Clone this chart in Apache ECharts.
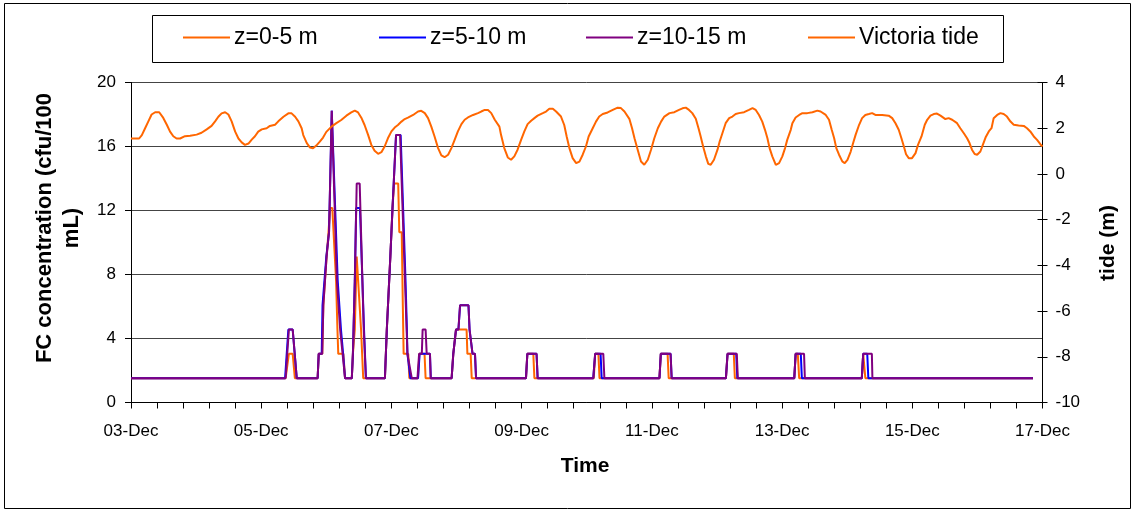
<!DOCTYPE html>
<html>
<head>
<meta charset="utf-8">
<script src="https://cdn.jsdelivr.net/npm/echarts@6/dist/echarts.min.js"></script>
<style>
  html, body { margin: 0; padding: 0; background: #fff; }
  #chart { width: 1135px; height: 512px; }
</style>
</head>
<body>
<div id="chart"></div>
<script>
// Time is in hours from 03-Dec 00:00; one axis label every 48 h.
const dateLabels = ['03-Dec', '05-Dec', '07-Dec', '09-Dec', '11-Dec', '13-Dec', '15-Dec', '17-Dec'];
const hoursPerLabel = 48;

const seriesNames = ['z=0-5 m', 'z=5-10 m', 'z=10-15 m', 'Victoria tide'];

// FC concentration (cfu/100 mL), [hour, value]
const fcTop = [
  [0,1.52],[57.0,1.52],[58.2,3.04],[59.6,3.04],[60.4,1.52],
  [68.8,1.52],[69.2,3.04],[70.5,3.04],[70.9,6.08],[71.5,7.6],[72.1,9.12],[72.8,10.64],[73.4,12.16],[74.2,12.16],[75.6,7.6],[76.1,4.56],[76.4,3.04],[78.3,3.04],[78.9,1.52],
  [81.4,1.52],[81.8,3.04],[82.5,4.56],[83.2,9.12],[84.8,4.56],[85.6,1.52],
  [93.6,1.52],[94.3,4.56],[94.9,4.56],[95.6,9.12],[96.4,12.16],[97.0,13.68],[98.5,13.68],[98.9,10.64],[99.8,10.64],[100.2,6.08],[100.5,3.04],[102.2,3.04],[102.6,1.52],
  [105.8,1.52],[106.3,3.04],[108.2,3.04],[108.6,1.52],
  [118.2,1.52],[118.8,3.04],[119.4,3.04],[119.8,4.56],[123.7,4.56],[124.0,3.04],[125.2,3.04],[125.6,1.52],
  [145.6,1.52],[146.1,3.04],[148.3,3.04],[148.7,1.52],
  [170.6,1.52],[171.1,3.04],[172.3,3.04],[172.7,1.52],
  [194.8,1.52],[195.3,3.04],[197.8,3.04],[198.2,1.52],
  [219.3,1.52],[219.9,3.04],[222.2,3.04],[222.6,1.52],
  [244.5,1.52],[245.0,3.04],[245.8,3.04],[246.3,1.52],
  [269.4,1.52],[269.9,3.04],[270.2,3.04],[270.7,1.52],
  [332.5,1.52]
];

const fcMid = [
  [0,1.52],[56.8,1.52],[58.0,4.56],[59.6,4.56],[61.1,1.52],
  [68.8,1.52],[69.2,3.04],[70.3,3.04],[70.6,6.08],[71.3,7.6],[72.0,9.12],[73.0,10.64],[74.0,18.24],[74.7,18.24],[76.2,7.6],[76.8,6.08],[77.4,4.56],[78.2,3.04],[78.9,1.52],
  [81.4,1.52],[81.8,3.04],[82.5,7.6],[83.0,12.16],[84.4,12.16],[85.9,4.56],[86.6,1.52],
  [93.6,1.52],[94.3,4.56],[94.9,4.56],[95.6,9.12],[96.4,12.16],[97.7,16.72],[99.4,16.72],[100.0,13.68],[100.6,10.64],[101.2,7.6],[101.7,4.56],[101.9,3.04],[102.5,3.04],[103.0,1.52],
  [105.8,1.52],[106.4,3.04],[110.2,3.04],[110.5,1.52],
  [118.2,1.52],[118.8,3.04],[119.4,3.04],[119.8,4.56],[120.7,4.56],[121.3,6.08],[124.4,6.08],[124.8,4.56],[125.3,4.56],[125.9,3.04],[126.8,3.04],[127.2,1.52],
  [145.6,1.52],[146.1,3.04],[149.5,3.04],[149.9,1.52],
  [170.4,1.52],[171.1,3.04],[173.1,3.04],[173.5,1.52],
  [194.8,1.52],[195.3,3.04],[198.9,3.04],[199.3,1.52],
  [219.3,1.52],[219.9,3.04],[223.1,3.04],[223.5,1.52],
  [244.5,1.52],[245.0,3.04],[246.9,3.04],[247.3,1.52],
  [269.4,1.52],[269.9,3.04],[271.4,3.04],[271.8,1.52],
  [332.5,1.52]
];

const fcDeep = [
  [0,1.52],[57.0,1.52],[58.2,4.56],[59.6,4.56],[61.1,1.52],
  [68.8,1.52],[69.2,3.04],[70.5,3.04],[70.9,6.08],[71.5,7.6],[72.1,9.12],[73.0,10.64],[74.0,18.24],[74.7,18.24],[75.9,7.6],[76.5,6.08],[77.1,4.56],[78.0,3.04],[78.9,1.52],
  [81.4,1.52],[81.8,3.04],[82.5,7.6],[83.2,13.68],[84.3,13.68],[85.8,4.56],[86.6,1.52],
  [93.6,1.52],[94.3,4.56],[94.9,4.56],[95.6,9.12],[96.4,12.16],[97.7,16.72],[99.2,16.72],[99.8,13.68],[100.4,10.64],[101.0,7.6],[101.6,4.56],[101.9,3.04],[102.5,3.04],[103.5,1.52],
  [105.6,1.52],[106.2,3.04],[107.2,3.04],[107.5,4.56],[108.6,4.56],[109.0,3.04],[110.2,3.04],[110.5,1.52],
  [118.2,1.52],[118.8,3.04],[119.4,3.04],[119.8,4.56],[120.7,4.56],[121.3,6.08],[124.4,6.08],[124.8,4.56],[125.3,4.56],[125.9,3.04],[126.8,3.04],[127.2,1.52],
  [145.6,1.52],[146.1,3.04],[149.5,3.04],[149.9,1.52],
  [170.4,1.52],[171.1,3.04],[174.1,3.04],[174.5,1.52],
  [194.8,1.52],[195.3,3.04],[198.9,3.04],[199.3,1.52],
  [219.3,1.52],[219.9,3.04],[223.3,3.04],[223.7,1.52],
  [244.5,1.52],[245.0,3.04],[248.1,3.04],[248.4,1.52],
  [269.4,1.52],[269.9,3.04],[273.1,3.04],[273.3,1.52],
  [332.5,1.52]
];

// Victoria Harbour tide level (m), [hour, value]
const victoriaTide = [
  [0,1.55],[3,1.55],[4,1.7],[5.2,2.0],[6.4,2.3],[7.6,2.6],[8.9,2.7],[10.4,2.7],[11.9,2.45],[13.2,2.15],[14.4,1.85],[15.6,1.65],[16.8,1.55],[18.1,1.55],[19.9,1.65],[21.8,1.67],[24.2,1.72],[26,1.8],[27.9,1.95],[29.7,2.1],[31,2.3],[32.2,2.5],[33.4,2.65],[34.7,2.7],[35.9,2.6],[37.1,2.3],[38.4,1.85],[39.6,1.55],[40.8,1.38],[42,1.27],[43.3,1.33],[44.5,1.5],[45.7,1.65],[46.9,1.85],[48.2,1.95],[50,2.0],[51.2,2.1],[53.1,2.15],[54.3,2.3],[56.2,2.5],[58,2.65],[59.2,2.65],[60.5,2.5],[61.7,2.3],[62.9,2.0],[63.5,1.7],[64.8,1.35],[66,1.15],[67.1,1.12],
  [68.3,1.24],[69.6,1.41],[70.8,1.59],[72.0,1.84],[73.9,2.07],[75.7,2.22],[77.5,2.36],[79.4,2.55],[81.2,2.69],[82.5,2.77],[83.7,2.69],[84.9,2.46],[86.1,2.14],[87.4,1.71],[88.6,1.27],[89.8,1.01],[91.1,0.88],[92.3,0.95],[93.5,1.2],[94.7,1.56],[96.0,1.86],[97.2,2.03],[98.4,2.14],[99.7,2.29],[100.9,2.4],[102.1,2.46],[104.0,2.58],[105.8,2.73],[107.0,2.76],[108.3,2.66],[109.5,2.44],[110.7,2.07],[111.9,1.64],[113.2,1.13],[114.4,0.81],[115.6,0.73],[116.9,0.84],[118.1,1.13],[119.3,1.49],[120.5,1.86],[121.8,2.18],[123.0,2.37],[124.2,2.47],[126.1,2.58],[127.9,2.66],[129.1,2.73],[130.4,2.8],[131.6,2.8],[132.8,2.66],[134.1,2.37],
  [135.8,2.07],[136.4,1.71],[137.6,1.13],[138.9,0.72],[140.1,0.62],[141.3,0.77],[142.5,1.06],[143.8,1.49],[145.0,1.86],[146.2,2.18],[147.5,2.33],[148.7,2.44],[149.9,2.55],[151.8,2.66],[153.0,2.73],[154.2,2.85],[155.5,2.85],[156.7,2.73],[158.5,2.51],[159.7,2.14],[160.6,1.64],[161.6,1.13],[162.8,0.69],[164.1,0.47],[165.3,0.54],[166.5,0.84],[167.7,1.2],[168.7,1.64],[170.2,2.0],[171.4,2.29],[172.6,2.51],[173.9,2.62],[175.7,2.69],[177.6,2.8],[179.4,2.9],[180.6,2.88],[181.9,2.73],[183.7,2.41],[184.7,2.0],[185.6,1.56],[186.8,1.05],[188.0,0.54],[189.2,0.4],[190.5,0.62],[191.7,1.06],[192.9,1.56],[194.2,2.0],[195.4,2.29],[196.6,2.51],[198.5,2.66],[200.3,2.7],[202.0,2.8],
  [203.3,2.87],[204.5,2.9],[205.7,2.8],[206.9,2.66],[208.2,2.41],[209.2,2.0],[210.0,1.64],[210.9,1.2],[211.9,0.77],[212.8,0.44],[213.7,0.4],[214.9,0.62],[216.2,1.06],[217.0,1.42],[218.0,1.78],[219.2,2.22],[220.5,2.44],[221.7,2.51],[222.9,2.62],[224.1,2.66],[226.0,2.7],[227.8,2.8],[229.1,2.88],[230.3,2.8],[231.5,2.58],[232.7,2.29],[233.7,1.93],[234.6,1.56],[235.4,1.13],[236.4,0.77],[237.7,0.4],[238.9,0.47],[240.1,0.77],[241.1,1.13],[241.9,1.49],[243.2,1.93],[243.8,2.22],[245.0,2.47],[246.3,2.58],[247.5,2.66],[249.3,2.66],[251.2,2.7],[253.0,2.77],[254.2,2.73],[256.1,2.58],[257.3,2.37],[258.3,1.93],[259.2,1.56],[260.0,1.13],[261.0,0.84],[262.2,0.55],[263.1,0.47],[264.1,0.62],[265.3,0.98],[266.2,1.35],[267.1,1.71],[268.4,2.15],[269.5,2.44],
  [270.7,2.58],[272.0,2.62],[273.2,2.66],[274.4,2.58],[276.9,2.58],[279.3,2.55],[280.6,2.44],[281.8,2.22],[283.0,1.93],[284.0,1.56],[284.9,1.2],[285.7,0.86],[286.7,0.69],[287.9,0.69],[289.2,0.91],[290.1,1.27],[291.4,1.64],[292.6,2.15],[293.5,2.37],[294.7,2.55],[295.9,2.62],[297.1,2.64],[298.4,2.55],[300.2,2.4],[301.4,2.44],[302.7,2.37],[304.5,2.22],[305.7,2.0],[307.0,1.78],[308.2,1.56],[309.1,1.35],[310.0,1.06],[311.0,0.87],[311.9,0.84],[313.1,0.98],[314.0,1.27],[315.0,1.59],[316.2,1.86],[317.2,2.0],[318.0,2.44],[319.3,2.58],[320.5,2.66],[321.7,2.62],[322.9,2.51],[324.2,2.29],[325.4,2.15],[327.2,2.12],[329.1,2.1],[330.3,2.0],[331.5,1.86],[332.8,1.64],[334.0,1.49],[335.2,1.3],[336.0,1.2]
];

const fcTicks = { min: 0, max: 20, interval: 4 };
const tideTicks = { min: -10, max: 4, interval: 2 };

const FONT = '"Liberation Sans", Arial, sans-serif';
const ORANGE = '#FF6600';
const BLUE = '#0000FF';
const PURPLE = '#800080';

const chart = echarts.init(document.getElementById('chart'), null, { renderer: 'canvas' });

const plot = { left: 131, right: 92.5, top: 82.5, bottom: 109.5 };

function legendAt(name, x) {
  return {
    data: [name],
    left: x, top: 26,
    icon: 'rect', itemWidth: 47, itemHeight: 2, itemGap: 0,
    padding: 0,
    textStyle: { fontFamily: FONT, fontSize: 23, color: '#000', padding: [0, 0, 0, -1] },
    selectedMode: false
  };
}

const lineSeries = (name, data, color, yAxisIndex) => ({
  name, type: 'line', data, yAxisIndex,
  showSymbol: false, symbol: 'none', animation: false,
  lineStyle: { color, width: 2 }, itemStyle: { color },
  emphasis: { disabled: true }
});

chart.setOption({
  animation: false,
  backgroundColor: '#fff',
  grid: plot,
  legend: [
    legendAt(seriesNames[0], 183),
    legendAt(seriesNames[1], 379),
    legendAt(seriesNames[2], 586),
    legendAt(seriesNames[3], 808)
  ],
  graphic: [
    { type: 'rect', z: -10, shape: { x: 4.5, y: 3.5, width: 1126, height: 505 }, style: { fill: '#fff', stroke: '#000', lineWidth: 1 } },
    { type: 'rect', z: -5, shape: { x: 152.5, y: 15.5, width: 851, height: 47 }, style: { fill: '#fff', stroke: '#000', lineWidth: 1 } },
    { type: 'text', x: 58, y: 228, rotation: Math.PI / 2,
      style: { text: 'FC concentration (cfu/100\nmL)', font: 'bold 22px ' + FONT, fill: '#000', align: 'center', verticalAlign: 'middle', lineHeight: 27 } },
    { type: 'text', x: 1108, y: 243, rotation: Math.PI / 2,
      style: { text: 'tide (m)', font: 'bold 21px ' + FONT, fill: '#000', align: 'center', verticalAlign: 'middle' } },
    { type: 'text', x: 585, y: 466,
      style: { text: 'Time', font: 'bold 21px ' + FONT, fill: '#000', align: 'center', verticalAlign: 'middle' } }
  ],
  xAxis: {
    type: 'value', min: 0, max: 336, interval: hoursPerLabel,
    axisLine: { show: true, onZero: false, lineStyle: { color: '#000', width: 1 } },
    axisTick: { show: true, length: 6, lineStyle: { color: '#000' } },
    minorTick: { show: true, splitNumber: 5, length: 6, lineStyle: { color: '#000' } },
    splitLine: { show: false },
    axisLabel: {
      fontFamily: FONT, fontSize: 17, color: '#000', margin: 20,
      showMinLabel: true, showMaxLabel: true,
      formatter: v => dateLabels[Math.round(v / hoursPerLabel)] || ''
    }
  },
  yAxis: [
    {
      type: 'value', position: 'left', ...fcTicks,
      axisLine: { show: true, lineStyle: { color: '#000', width: 1 } },
      axisTick: { show: true, length: 6, lineStyle: { color: '#000' } },
      splitLine: { show: true, lineStyle: { color: '#444', width: 1 } },
      axisLabel: { fontFamily: FONT, fontSize: 17, color: '#000', margin: 15, showMinLabel: true, showMaxLabel: true }
    },
    {
      type: 'value', position: 'right', ...tideTicks,
      axisLine: { show: true, lineStyle: { color: '#000', width: 1 } },
      axisTick: { show: true, length: 5, lineStyle: { color: '#000' } },
      splitLine: { show: false },
      axisLabel: { fontFamily: FONT, fontSize: 17, color: '#000', margin: 13, showMinLabel: true, showMaxLabel: true }
    },
    {
      // inner half of the crossing tick marks on the tide axis
      type: 'value', position: 'right', ...tideTicks,
      axisLine: { show: false },
      axisTick: { show: true, inside: true, length: 5, lineStyle: { color: '#000' } },
      splitLine: { show: false },
      axisLabel: { show: false }
    }
  ],
  series: [
    lineSeries(seriesNames[0], fcTop, ORANGE, 0),
    lineSeries(seriesNames[1], fcMid, BLUE, 0),
    lineSeries(seriesNames[2], fcDeep, PURPLE, 0),
    lineSeries(seriesNames[3], victoriaTide, ORANGE, 1)
  ]
});
</script>
</body>
</html>
